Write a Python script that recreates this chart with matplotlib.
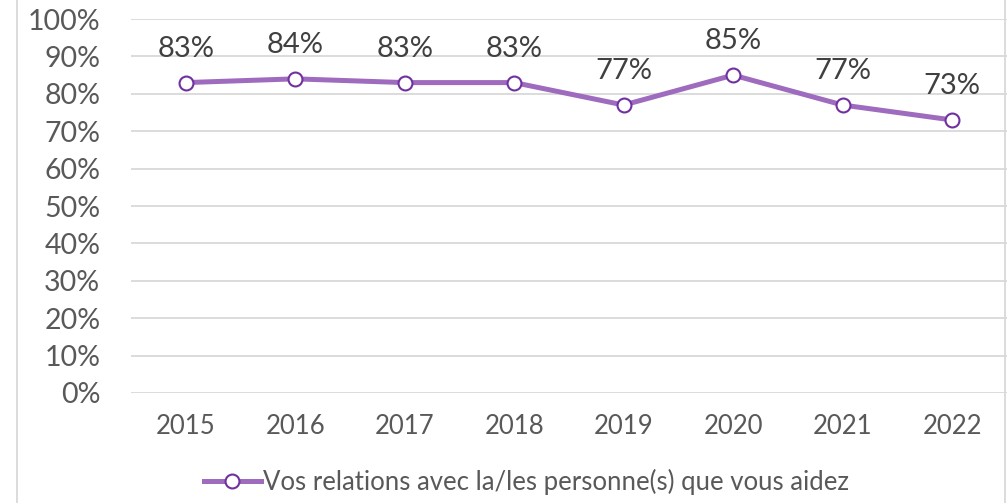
import matplotlib
matplotlib.use('Agg')
import matplotlib.pyplot as plt
from matplotlib.lines import Line2D

years = ['2015', '2016', '2017', '2018', '2019', '2020', '2021', '2022']
values = [83, 84, 83, 83, 77, 85, 77, 73]
yticks = list(range(0, 101, 10))
series_label = 'Vos relations avec la/les personne(s) que vous aidez'

plt.rcParams['font.family'] = ['Lato', 'DejaVu Sans']
text_color = '#595959'
line_color = '#9e6bbf'
edge_color = '#7030a0'

fig = plt.figure(figsize=(10.07, 5.03), dpi=100)
ax = fig.add_axes([0.130, 0.2187, 0.870, 0.7435])

x = list(range(len(years)))
ax.plot(x, values, color=line_color, linewidth=3.6, marker='o', markersize=10,
        markerfacecolor='white', markeredgecolor=edge_color, markeredgewidth=1.5,
        zorder=3, solid_capstyle='round')

for xi, v in zip(x, values):
    ax.annotate(f'{v}%', xy=(xi, v), xytext=(0, 15), textcoords='offset points',
                ha='center', va='bottom', fontsize=21, color='#404040')

ax.set_xlim(-0.5, len(years) - 0.5)
ax.set_ylim(0, 100)
ax.set_yticks(yticks)
ax.set_yticklabels([f'{t}%' for t in yticks])
ax.set_xticks(x)
ax.set_xticklabels(years)
ax.tick_params(axis='y', length=0, pad=22, labelsize=20.5, labelcolor=text_color)
ax.tick_params(axis='x', length=0, pad=15, labelsize=18.5, labelcolor=text_color)
ax.grid(True, axis='y', color='#d9d9d9', linewidth=1.3)
ax.set_axisbelow(True)
for s in ax.spines.values():
    s.set_visible(False)

# chart area borders
fig.add_artist(Line2D([17 / 1007, 17 / 1007], [0, 1], color='#d9d9d9', linewidth=1.3))
fig.add_artist(Line2D([1005 / 1007, 1005 / 1007], [0, 1], color='#d9d9d9', linewidth=1.3))

handle = Line2D([], [], color=line_color, linewidth=3.6, marker='o', markersize=10,
                markerfacecolor='white', markeredgecolor=edge_color, markeredgewidth=1.5)
fig.legend([handle], [series_label], loc='center', bbox_to_anchor=(0.523, 0.042),
           frameon=False, fontsize=18.5, handlelength=2.2, handletextpad=0.1,
           labelcolor=text_color)

plt.savefig('out.png', dpi=100)
